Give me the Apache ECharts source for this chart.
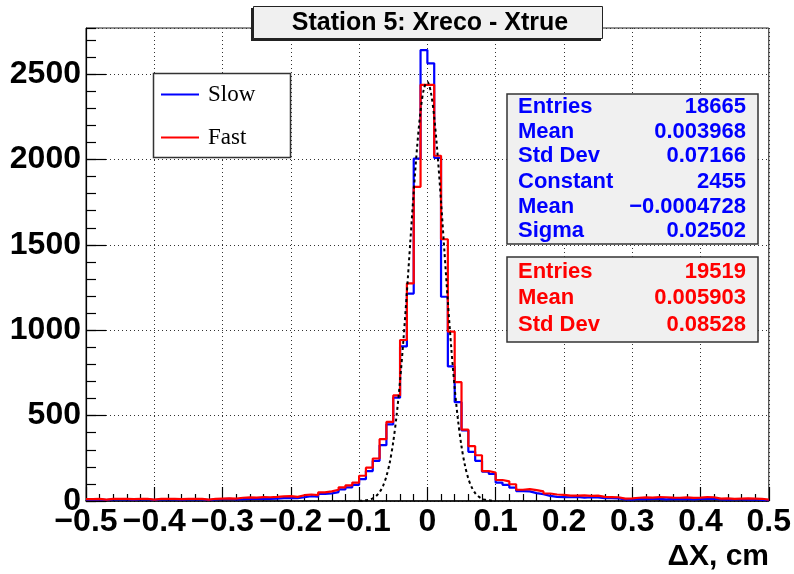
<!DOCTYPE html>
<html>
<head>
<meta charset="utf-8">
<script src="https://cdn.jsdelivr.net/npm/echarts@6/dist/echarts.min.js"></script>
<style>
html,body{margin:0;padding:0;background:#fff;}
#chart{width:794px;height:574px;}
</style>
</head>
<body>
<div id="chart"></div>
<script>
// ---------- data ----------
const binStart = -0.5;
const binWidth = 0.01;

// "Slow" histogram (blue), 100 bins from -0.50 to 0.50
const slowCounts = [
  8, 9, 6, 9, 10, 9, 8, 10, 11, 6,
  9, 10, 9, 8, 10, 10, 9, 6, 10, 11,
  12, 10, 11, 13, 12, 13, 12, 14, 17, 18,
  16, 22, 28, 25, 41, 45, 52, 68, 80, 95,
  128, 175, 235, 327, 449, 605, 905, 1215, 2005, 2641,
  2563, 2010, 1196, 788, 579, 414, 288, 235, 172, 158,
  108, 95, 78, 58, 56, 46, 40, 30, 24, 23,
  22, 24, 20, 22, 21, 16, 17, 15, 9, 8,
  12, 11, 13, 12, 10, 13, 11, 12, 10, 12,
  12, 13, 9, 8, 10, 9, 8, 9, 7, 5
];

// "Fast" histogram (red)
const fastCounts = [
  11, 12, 8, 12, 13, 12, 11, 12, 13, 8,
  12, 13, 12, 11, 12, 13, 12, 8, 13, 14,
  15, 14, 19, 21, 20, 23, 22, 24, 27, 28,
  24, 34, 38, 34, 50, 56, 66, 80, 92, 108,
  148, 195, 249, 362, 463, 618, 943, 1274, 1840, 2437,
  2437, 2022, 1533, 992, 696, 418, 321, 268, 175, 167,
  123, 115, 98, 66, 70, 64, 56, 44, 38, 36,
  32, 31, 33, 30, 31, 24, 23, 22, 14, 15,
  19, 21, 20, 23, 22, 20, 19, 21, 18, 20,
  23, 22, 14, 15, 13, 14, 15, 14, 13, 8
];

// Gaussian fit curve (dotted black)
const fitX = [
  -0.100, -0.095, -0.090, -0.085, -0.080, -0.075, -0.070, -0.065, -0.060, -0.055,
  -0.050, -0.045, -0.040, -0.035, -0.030, -0.025, -0.020, -0.015, -0.010, -0.005,
   0.000,  0.005,  0.010,  0.015,  0.020,  0.025,  0.030,  0.035,  0.040,  0.045,
   0.050,  0.055,  0.060,  0.065,  0.070,  0.075,  0.080,  0.085,  0.090,  0.095, 0.100
];
const fitY = [
  1, 2, 4, 8, 16, 29, 52, 88, 145, 227,
  346, 504, 705, 947, 1224, 1519, 1812, 2075, 2284, 2416,
  2455, 2396, 2248, 2026, 1754, 1460, 1167, 896, 661, 469,
  319, 209, 131, 80, 46, 26, 14, 7, 4, 2, 1
];

const xTickValues = [-0.5, -0.4, -0.3, -0.2, -0.1, 0, 0.1, 0.2, 0.3, 0.4, 0.5];
const xTickLabels = ['\u22120.5', '\u22120.4', '\u22120.3', '\u22120.2', '\u22120.1', '0', '0.1', '0.2', '0.3', '0.4', '0.5'];
const yTickLabels = ['0', '500', '1000', '1500', '2000', '2500'];

const seriesNames = ['Slow', 'Fast'];
const titleText = 'Station 5: Xreco - Xtrue';
const xAxisTitle = '\u0394X, cm';

const statsSlowLabels = ['Entries', 'Mean', 'Std Dev', 'Constant', 'Mean', 'Sigma'];
const statsSlowValues = ['18665', '0.003968', '0.07166', '2455', '\u22120.0004728', '0.02502'];
const statsFastLabels = ['Entries', 'Mean', 'Std Dev'];
const statsFastValues = ['19519', '0.005903', '0.08528'];

// ---------- helpers ----------
function toSteps(counts) {
  const pts = counts.map((c, i) => [+(binStart + i * binWidth).toFixed(2), c]);
  pts.push([+(binStart + counts.length * binWidth).toFixed(2), counts[counts.length - 1]]);
  return pts;
}
function xLabel(v) {
  for (let i = 0; i < xTickValues.length; i++) {
    if (Math.abs(v - xTickValues[i]) < 1e-6) return xTickLabels[i];
  }
  return '';
}
function yLabel(v) {
  const s = String(Math.round(v));
  return yTickLabels.indexOf(s) >= 0 ? s : '';
}

const SANS = "'Liberation Sans', Arial, Helvetica, sans-serif";
const SERIF = "'Liberation Serif', 'Times New Roman', serif";
const BLUE = '#0000ff';
const RED = '#ff0000';

function statsBox(x, y, w, h, rowY, labels, values, color) {
  const els = [{
    type: 'rect', z: 100,
    shape: { x: x, y: y, width: w, height: h },
    style: { fill: '#f0f0f0', stroke: '#333', lineWidth: 1.5 }
  }];
  labels.forEach((lab, i) => {
    els.push({
      type: 'text', z: 101, x: x + 11, y: rowY[i],
      style: { text: lab, fill: color, font: 'bold 22px ' + SANS, align: 'left', verticalAlign: 'middle', textAlign: 'left', textVerticalAlign: 'middle' }
    });
    els.push({
      type: 'text', z: 101, x: x + w - 12, y: rowY[i],
      style: { text: values[i], fill: color, font: 'bold 22px ' + SANS, align: 'right', verticalAlign: 'middle', textAlign: 'right', textVerticalAlign: 'middle' }
    });
  });
  return els;
}

const graphics = [];
// title box with shadow
graphics.push({ type: 'rect', z: 100, shape: { x: 251, y: 8, width: 350, height: 33 }, style: { fill: '#222' } });
graphics.push({ type: 'rect', z: 101, shape: { x: 253.5, y: 6.5, width: 349, height: 32 }, style: { fill: '#f0f0f0', stroke: '#222', lineWidth: 1 } });
graphics.push({ type: 'text', z: 102, x: 430, y: 23.5, style: { text: titleText, fill: '#000', font: 'bold 25px ' + SANS, align: 'center', verticalAlign: 'middle', textAlign: 'center', textVerticalAlign: 'middle' } });
// legend box
graphics.push({ type: 'rect', z: 100, shape: { x: 153.5, y: 73.5, width: 137, height: 84 }, style: { fill: '#fff', stroke: '#333', lineWidth: 1.5 } });
// stats boxes
statsBox(507, 94, 251, 150, [107, 132, 156, 182, 207, 231], statsSlowLabels, statsSlowValues, BLUE).forEach(e => graphics.push(e));
statsBox(507, 257, 251, 85, [272, 298, 325], statsFastLabels, statsFastValues, RED).forEach(e => graphics.push(e));
// x axis title
graphics.push({ type: 'text', z: 100, x: 769, y: 557, style: { text: xAxisTitle, fill: '#000', font: 'bold 30px ' + SANS, align: 'right', verticalAlign: 'middle', textAlign: 'right', textVerticalAlign: 'middle' } });

const gridDot = { color: '#333', width: 1, type: [1, 3] };

const option = {
  animation: false,
  backgroundColor: '#fff',
  grid: { left: 86, right: 25, top: 28, bottom: 73, show: true, borderColor: '#222', borderWidth: 1, backgroundColor: 'transparent', containLabel: false },
  legend: {
    data: seriesNames,
    orient: 'vertical',
    left: 161, top: 83,
    padding: 0,
    icon: 'rect',
    itemWidth: 38, itemHeight: 2,
    itemGap: 20,
    z: 150,
    textStyle: { fontFamily: SERIF, fontSize: 23, color: '#000', lineHeight: 22, padding: [0, 0, 0, 4] }
  },
  xAxis: {
    type: 'value', min: -0.5, max: 0.5, interval: 0.1,
    axisLine: { onZero: false, lineStyle: { color: '#000', width: 1.5 } },
    axisTick: { inside: true, length: 14, lineStyle: { color: '#000', width: 1.2 } },
    minorTick: { show: true, splitNumber: 5, length: 7, lineStyle: { color: '#000', width: 1.2 } },
    axisLabel: { formatter: xLabel, interval: 0, fontFamily: SANS, fontWeight: 'bold', fontSize: 32, color: '#000', margin: 5, showMinLabel: true, showMaxLabel: true },
    splitLine: { show: true, lineStyle: gridDot }
  },
  yAxis: [{
    type: 'value', min: 0, max: 2770, interval: 500, position: 'left',
    axisLine: { onZero: false, lineStyle: { color: '#000', width: 1.2 } },
    axisTick: { inside: true, length: 20, lineStyle: { color: '#000', width: 1.2 } },
    axisLabel: { formatter: yLabel, fontFamily: SANS, fontWeight: 'bold', fontSize: 32, color: '#000', margin: 5, showMaxLabel: false },
    splitLine: { show: true, lineStyle: gridDot }
  }, {
    type: 'value', min: 0, max: 2770, interval: 100, position: 'left',
    axisLine: { show: false, onZero: false },
    axisTick: { inside: true, length: 10, lineStyle: { color: '#000', width: 1.2 } },
    axisLabel: { show: false },
    splitLine: { show: false }
  }],
  graphic: { elements: graphics },
  series: [{
    name: seriesNames[0], type: 'line', step: 'end', data: toSteps(slowCounts),
    symbol: 'none', z: 3, yAxisIndex: 0,
    lineStyle: { color: BLUE, width: 2.2 }, itemStyle: { color: BLUE }
  }, {
    name: seriesNames[1], type: 'line', step: 'end', data: toSteps(fastCounts),
    symbol: 'none', z: 4, yAxisIndex: 0,
    lineStyle: { color: RED, width: 2.2 }, itemStyle: { color: RED }
  }, {
    name: 'fit', type: 'line', smooth: 0.3, data: fitX.map((x, i) => [x, fitY[i]]),
    symbol: 'none', z: 5, yAxisIndex: 0,
    lineStyle: { color: '#000', width: 2, type: [3, 3] }, itemStyle: { color: '#000' }
  }]
};

const chart = echarts.init(document.getElementById('chart'), null, { renderer: 'canvas' });
chart.setOption(option);
</script>
</body>
</html>
